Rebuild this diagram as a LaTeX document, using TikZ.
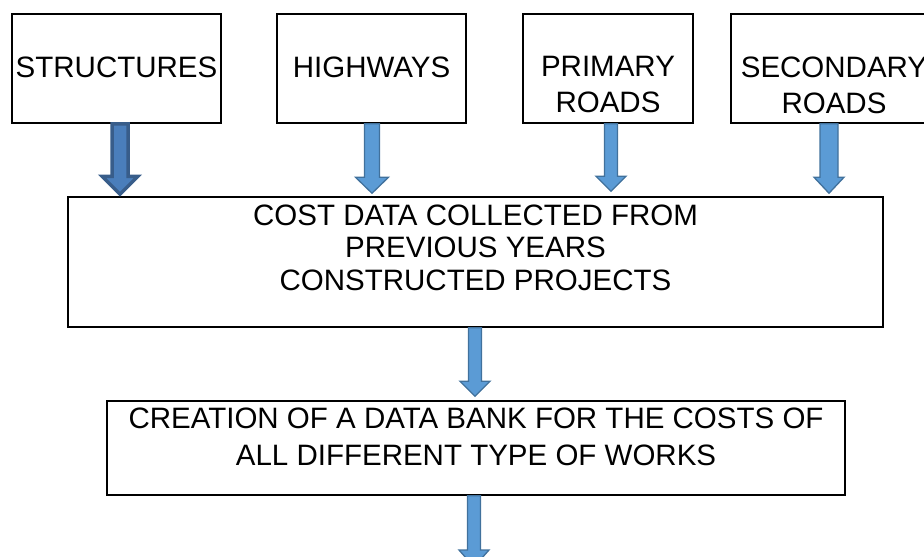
\documentclass[tikz,border=0pt]{standalone}
\usepackage{fontspec}
\setmainfont{Liberation Sans}
\usepackage{tikz}
\usetikzlibrary{positioning}
\usetikzlibrary{calc}

\definecolor{arrowfill}{HTML}{5B9BD5}
\definecolor{arrowline}{HTML}{41719C}
\definecolor{darkfill}{HTML}{4A7EBB}
\definecolor{darkline}{HTML}{385D8A}

\tikzset{
	box/.style={draw, line width=1.5pt, inner sep=0pt, minimum height=109pt},
	boxtext/.style={inner sep=0pt, align=center, font=\fontsize{29.5}{36}\selectfont},
	lightarrow/.style={fill=arrowfill, draw=arrowline, line width=1.3pt, line join=miter},
	darkarrow/.style={fill=darkfill, draw=darkline, line width=3.5pt, line join=miter}
}

% #2 from, #3 to, #4 half shaft, #5 half head, #6 head length
\newcommand{\blockarrow}[6][lightarrow]{%
	\draw[#1] let \p1=(#2), \p2=(#3) in
		(\x1-#4pt,\y1) -- (\x1-#4pt,\y2+#6pt) -- (\x1-#5pt,\y2+#6pt) -- (\x1,\y2)
		-- (\x1+#5pt,\y2+#6pt) -- (\x1+#4pt,\y2+#6pt) -- (\x1+#4pt,\y1) -- cycle;}

\begin{document}
\begin{tikzpicture}[x=1pt,y=-1pt]

	\clip (0,0) rectangle (924,557);
	\useasboundingbox (0,0) rectangle (924,557);

	% top row
	\node[box, minimum width=209pt] (structures) at (116.5,68.5) {};
	\node[box, minimum width=189pt] (highways) at (371.5,68.5) {};
	\node[box, minimum width=170pt] (primary) at (608,68.5) {};
	\node[box, minimum width=206pt] (secondary) at (834,68.5) {};

	\node[boxtext, below=43pt of structures.north] (structurestext) {STRUCTURES};
	\node[boxtext, below=43pt of highways.north] (highwaystext) {HIGHWAYS};
	\node[boxtext, below=43pt of primary.north] (primarytext) {PRIMARY\\ROADS};
	\node[boxtext, below=43pt of secondary.north] (secondarytext) {SECONDARY\\ROADS};

	% cost data
	\node[box, minimum width=815pt, minimum height=130pt] (cost) at (475.5,262) {};
	\node[boxtext, font=\fontsize{29.5}{32.5}\selectfont, below=8pt of cost.north] (costtext)
		{COST DATA COLLECTED FROM\\PREVIOUS YEARS\\CONSTRUCTED PROJECTS};

	% data bank
	\node[box, minimum width=738pt, minimum height=94pt] (bank) at (476,448) {};
	\node[boxtext, font=\fontsize{29.5}{37}\selectfont, below=7pt of bank.north] (banktext)
		{CREATION OF A DATA BANK FOR THE COSTS OF\\ALL DIFFERENT TYPE OF WORKS};

	\coordinate (next) at (474,567);

	\blockarrow[darkarrow]{[xshift=3.5pt]structures.south}{[yshift=2pt]cost.north}{8}{18}{18}
	\blockarrow{[xshift=0.5pt]highways.south}{[yshift=3pt]cost.north}{7.5}{16.5}{16}
	\blockarrow{[xshift=3pt]primary.south}{[yshift=5pt]cost.north}{6.5}{15}{15}
	\blockarrow{[xshift=-5pt]secondary.south}{[yshift=3pt]cost.north}{9}{15}{16}
	\blockarrow{[xshift=-0.5pt]cost.south}{[yshift=4pt]bank.north}{6.5}{15}{15}
	\blockarrow{[xshift=-2pt]bank.south}{next}{6.5}{15}{17}

\end{tikzpicture}
\end{document}
